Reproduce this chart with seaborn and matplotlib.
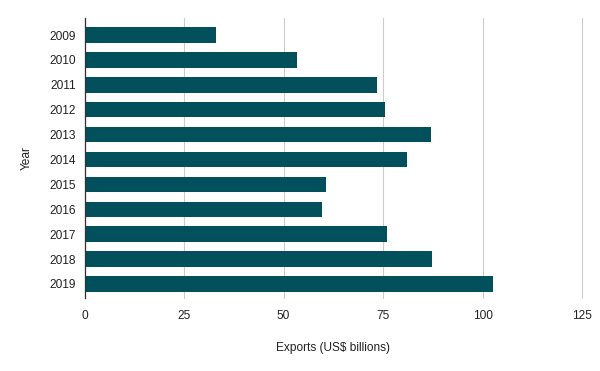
import pandas as pd
import matplotlib
matplotlib.use('Agg')
import matplotlib.pyplot as plt
import seaborn as sns

# data
years = ['2009', '2010', '2011', '2012', '2013', '2014', '2015', '2016', '2017', '2018', '2019']
exports = [33.1, 53.5, 73.5, 75.6, 87.1, 81.1, 60.7, 59.7, 76.1, 87.3, 102.7]
x_ticks = [0, 25, 50, 75, 100, 125]

df = pd.DataFrame({'Year': years, 'Exports': exports})

sns.set_style('white')
plt.rcParams['font.family'] = ['Liberation Sans', 'DejaVu Sans']

fig = plt.figure(figsize=(6, 3.71), dpi=100)
ax = fig.add_axes([0.141, 0.197, 0.829, 0.754])

sns.barplot(data=df, x='Exports', y='Year', orient='h', color='#01505b',
            width=0.62, saturation=1, linewidth=0, ax=ax, zorder=3)

ax.set_xlim(0, 125)
ax.set_ylim(10.56, -0.68)
ax.set_xticks(x_ticks)
ax.xaxis.grid(True, color='#cccccc', linewidth=0.8, zorder=0)
for gl in ax.get_xgridlines():
    gl.set_clip_on(False)
ax.yaxis.grid(False)
for s in ['top', 'right', 'bottom']:
    ax.spines[s].set_visible(False)
ax.spines['left'].set_color('#333333')
ax.spines['left'].set_linewidth(0.9)
ax.spines['left'].set_zorder(4)

ax.tick_params(axis='x', length=3, color='#cccccc', width=0.8, labelsize=8.6, labelcolor='#222222', pad=6)
ax.tick_params(axis='y', length=0, labelsize=8.6, labelcolor='#222222', pad=6)

ax.set_xlabel('Exports (US$ billions)', fontsize=8.6, color='#222222', labelpad=14)
ax.set_ylabel('Year', fontsize=8.6, color='#222222', labelpad=12)

fig.savefig('out.png', dpi=100)
